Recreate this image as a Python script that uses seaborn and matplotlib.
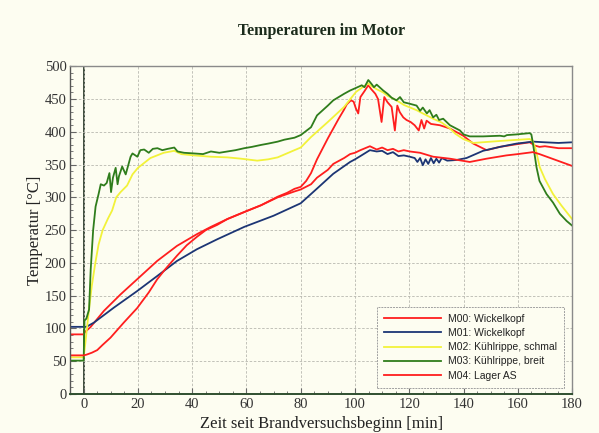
import numpy as np
import pandas as pd
import seaborn as sns
import matplotlib.pyplot as plt
from matplotlib.ticker import MultipleLocator

# Zeitachsen [min] und Temperaturen [°C] der fünf Messstellen
t_m00 = [-5, 0, 0.6, 2.5, 4.7, 7.5, 13.6, 19.7, 27.1, 34.4, 41.8, 46.9, 53, 60, 65.4, 71.5, 75,
         77.7, 80, 82, 83.8, 86, 88, 90, 92, 94, 96, 97, 98.5, 99.5, 100.3, 101.2, 102, 103.5,
         104.9, 106, 107.5, 108.5, 109.8, 110.8, 112, 113.5, 114.7, 115.6, 116.5, 117.8, 119,
         120.5, 122, 123.5, 124.5, 125.5, 126.4, 128, 131.3, 135, 139.9, 143.6, 148.5, 153.4,
         159.5, 164.4, 166.3, 168, 170, 175, 180]
T_m00 = [91, 91, 95, 102, 113, 127, 152, 175, 203, 226, 244, 255, 267, 279, 288, 301, 307,
         313, 316, 325, 337, 358, 374, 390, 405, 420, 434, 442, 448, 446, 436, 428, 453, 462,
         471, 465, 458, 450, 415, 453, 445, 438, 402, 440, 430, 422, 418,
         415, 410, 402, 418, 405, 417, 412, 410, 405, 394, 382, 372, 377,
         381, 384, 379, 377, 378, 375, 375]

t_m01 = [-5, 0, 1, 3.8, 11.2, 19.7, 27.1, 34.4, 41.8, 49.2, 59.2, 70, 80, 85.9, 92, 98.2, 100,
         102, 105.5, 108, 110, 112, 114, 116, 118, 120.2, 122, 123, 124, 125, 126, 127, 128,
         129, 130, 131, 132, 134, 137.4, 141.1, 147.2, 153.4, 159.5, 165.6, 170, 175, 180]
T_m01 = [102.5, 102.5, 102.5, 109, 132, 157, 180, 203, 221, 236, 255, 272, 291, 313, 336, 354, 358,
         363, 372, 370, 371, 366, 369, 363, 364, 362, 360, 354, 360, 349, 358, 351, 360,
         352, 359, 353, 360, 356, 357, 360, 371, 377, 382, 385, 384, 383, 384]

t_m02 = [-5, 0, 0.6, 2, 3, 4.3, 5.5, 7, 9, 10.5, 12, 13.6, 16, 18, 20, 24.6, 29.5, 33.4, 36,
         40.7, 46.9, 53, 58, 64, 68, 71.5, 77.7, 80, 83.8, 90, 96, 100.4, 104.9, 106, 108,
         110.4, 112, 115.3, 118, 122.7, 125, 128.8, 132, 135, 137, 139.9, 143.6, 153.4, 164.4,
         165.6, 166.5, 168.1, 170, 173, 176, 180]
T_m02 = [56, 56, 77, 130, 165, 200, 228, 250, 268, 280, 300, 308, 318, 335, 345, 360, 368, 371, 366,
         364, 362, 361, 359, 356, 358, 361, 372, 376, 392, 415, 438, 461, 474, 470, 465,
         460, 455, 448, 441, 433, 428, 420, 414, 405, 397, 389, 383, 386, 389,
         385, 375, 346, 328, 305, 288, 267]

t_m03 = [-5, 0, 0.3, 1, 2, 2.6, 3.5, 4.4, 5.5, 6.3, 7.5, 8.5, 9.5, 10.1, 10.8, 11.8, 12.5, 13,
         14.2, 15.5, 16.5, 17.3, 18, 19.8, 20.9, 22.3, 24, 25.5, 27.2, 29, 31, 33.4, 34.6, 37,
         40.7, 44, 46.9, 50, 53, 56, 59.2, 62, 65.4, 68, 71.5, 74, 77.7, 80, 83.8, 86, 90, 92,
         96, 98.2, 100.4, 102.5, 103.5, 104.9, 106.1, 107, 108, 110.4, 112, 113.5, 115.3, 116.6,
         118, 120, 122.7, 124, 125, 126.5, 127.5, 128.8, 130, 131, 132.5, 135, 138.7, 140,
         142.3, 147.2, 153.4, 155, 156, 159.5, 164.4, 165, 165.6, 166.9, 168, 170.6, 173,
         175.5, 178, 180]
T_m03 = [51, 51, 112, 115, 129, 190, 250, 286, 305, 320, 318, 322, 337, 308, 330, 345, 320, 332,
         347, 335, 350, 362, 367, 362, 372, 373, 368, 374, 375, 372, 374, 376, 370, 368,
         367, 366, 370, 368, 370, 372, 375, 377, 380, 382, 385, 388, 391, 395, 407, 425, 440, 448,
         458, 463, 467, 471, 468, 479, 473, 468, 472, 463, 458, 452, 448, 453,
         445, 443, 440, 432, 437, 428, 433, 422, 426, 418, 420, 410, 402, 396,
         393, 393, 394, 393, 395, 396, 398, 396, 382, 346, 325, 305, 292,
         275, 264, 257]

t_m04 = [-5, 0, 1, 3, 5, 7, 9.9, 14.8, 19.7, 24, 27.1, 30, 34.4, 38, 41.8, 45, 49.2, 53, 60,
         65.4, 71.5, 77.7, 80, 83.8, 86, 90, 92, 96, 98.2, 100, 102, 105.5, 107, 108, 110, 112,
         114, 116, 118, 120.2, 124, 128.8, 135, 142.3, 148.5, 155.8, 160, 165.6, 168, 172, 176,
         180]
T_m04 = [59, 59, 60, 63, 67, 75, 86, 109, 131, 155, 175, 190, 211, 227, 240, 250, 258, 267, 279,
         288, 300, 309, 312, 320, 330, 342, 351, 360, 366, 368, 372, 378, 375, 373, 376, 372,
         374, 370, 372, 370, 368, 362, 359, 354, 359, 364, 366, 369, 366, 360, 354,
         348]

labels = ["M00: Wickelkopf", "M01: Wickelkopf", "M02: Kühlrippe, schmal",
          "M03: Kühlrippe, breit", "M04: Lager AS"]
colors = ["#ff1e1e", "#1c3574", "#f2f23a", "#2f7d1c", "#ff1e1e"]

# Tabelle im Langformat für seaborn
series = [(t_m00, T_m00), (t_m01, T_m01), (t_m02, T_m02), (t_m03, T_m03), (t_m04, T_m04)]
df = pd.concat([pd.DataFrame({"t": t, "T": T, "Messstelle": lab})
                for (t, T), lab in zip(series, labels)], ignore_index=True)

bg = "#fdfdf1"
fig = plt.figure(figsize=(5.99, 4.33), dpi=100, facecolor=bg)
ax = fig.add_axes([0.117, 0.090, 0.838, 0.757], facecolor=bg)

sns.lineplot(data=df, x="t", y="T", hue="Messstelle", hue_order=labels,
             palette=dict(zip(labels, colors)), estimator=None, sort=False,
             linewidth=1.3, ax=ax)

ax.set_xlim(-5, 180)
ax.set_ylim(0, 500)
ax.xaxis.set_major_locator(MultipleLocator(20))
ax.xaxis.set_minor_locator(MultipleLocator(5))
ax.yaxis.set_major_locator(MultipleLocator(50))
ax.yaxis.set_minor_locator(MultipleLocator(10))
ax.tick_params(which="both", direction="in", colors="#666666", labelcolor="#333333",
               labelsize=10.5, pad=2.5)
ax.tick_params(which="major", length=4)
ax.tick_params(which="minor", length=2.5)
for lab in ax.get_xticklabels() + ax.get_yticklabels():
    lab.set_family("Liberation Serif")
ax.grid(True, which="major", color="#b8b8b0", linestyle=(0, (3, 2)), linewidth=0.6)
ax.axvline(0, color="#1e2e1e", linewidth=1.2, zorder=1)

for s in ax.spines.values():
    s.set_color("#8a8a8a")
    s.set_linewidth(1.0)
ax.spines["bottom"].set_color("#2f4f2f")
ax.spines["bottom"].set_linewidth(1.4)
ax.spines["left"].set_color("#555555")

ax.set_xlabel("Zeit seit Brandversuchsbeginn [min]", family="Liberation Serif",
              fontsize=12, color="#222222", labelpad=4)
ax.set_ylabel("Temperatur [°C]", family="Liberation Serif", fontsize=12,
              color="#222222", labelpad=1)
fig.text(0.537, 0.928, "Temperaturen im Motor", family="Liberation Serif",
         fontweight="bold", fontsize=11.5, color="#1b2b1b", ha="center", va="center")

handles, labs = ax.get_legend_handles_labels()
leg = ax.legend(handles, labs, loc="lower right", bbox_to_anchor=(0.994, 0.003),
                prop={"family": "Liberation Sans", "size": 7.5}, handlelength=5.5,
                handletextpad=0.6, labelspacing=0.4, borderpad=0.7, fancybox=False,
                framealpha=1, facecolor=bg, edgecolor="#a0a0a0")
leg.get_frame().set_linestyle((0, (2, 1)))
leg.get_frame().set_linewidth(0.7)
for text in leg.get_texts():
    text.set_color("#222222")

fig.savefig("out.png", dpi=100, facecolor=bg)
